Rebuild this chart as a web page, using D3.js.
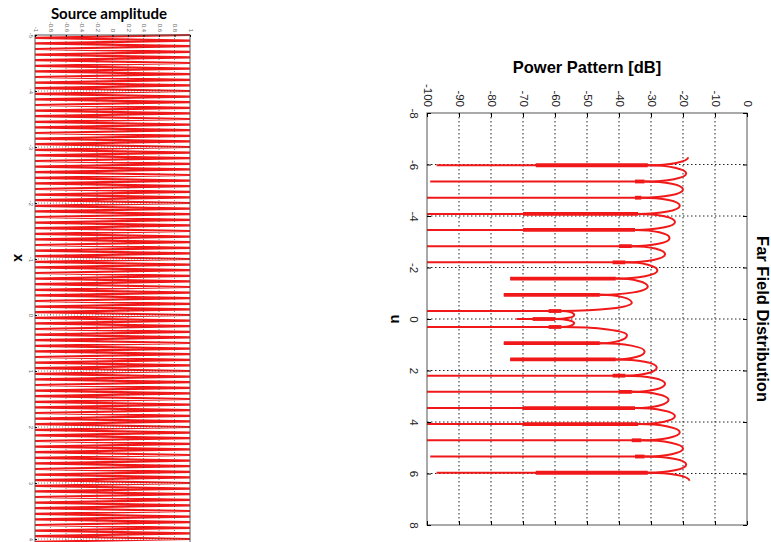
<!DOCTYPE html>
<html>
<head>
<meta charset="utf-8">
<script src="https://cdn.jsdelivr.net/npm/d3@7"></script>
<style>
body { margin: 0; background: #fff; }
svg { display: block; }
</style>
</head>
<body>
<div class="chart"></div>
<script>
// left panel: source amplitude along x (plot is rotated)
var ampTicks = [-1, -0.8, -0.6, -0.4, -0.2, 0, 0.2, 0.4, 0.6, 0.8, 1]
var xTicks = [-5, -4, -3, -2, -1, 0, 1, 2, 3, 4]
var sourceAmp = [
    1, -1, 1, -1, 1, -1, 1, -1, 1, -1, 1, -1, 1, -1, 1, -1, 1, -1, 1, -1,
    1, -1, 1, -1, 1, -1, 1, -1, 1, -1, 1, -1, 1, -1, 1, -1, 1, -1, 1, -1,
    1, -1, 1, -1, 1, -1, 1, -1, 1, -1, 1, -1, 1, -1, 1, -1, 1, -1, 1, -1,
    1, -1, 1, -1, 1, -1, 1, -1, 1, -1, 1, -1, 1, -1, 1, -1, 1, -1, 1, -1,
    1, -1, 1, -1, 1, -1, 1, -1, 1, -1, 1, -1, 1, -1, 1, -1, 1, -1, 1, -1,
    1, -1, 1, -1, 1, -1, 1, -1, 1, -1, 1, -1, 1, -1, 1, -1, 1, -1, 1, -1,
    1, -1, 1, -1, 1, -1, 1, -1, 1, -1, 1, -1, 1, -1, 1, -1, 1, -1, 1, -1,
    1, -1, 1, -1, 1, -1, 1, -1, 1, -1, 1, -1, 1, -1, 1, -1, 1, -1, 1, -1,
    1, -1, 1, -1, 1, -1, 1, -1, 1, -1, 1, -1, 1, -1, 1, -1, 1, -1, 1, -1,
    1, -1, 1, -1, 1, -1, 1, -1, 1, -1, 1, -1, 1, -1, 1, -1, 1, -1, 1, -1,
    1
]

// right panel: far field power pattern (dB) against u
var dbTicks = [-100, -90, -80, -70, -60, -50, -40, -30, -20, -10, 0]
var uTicks = [-8, -6, -4, -2, 0, 2, 4, 6, 8]
var lobeU = [-6.28, -5.65, -5.03, -4.40, -3.77, -3.14, -2.51, -1.88, -1.26, -0.63, -0.16,
             0.16, 0.63, 1.26, 1.88, 2.51, 3.14, 3.77, 4.40, 5.03, 5.65, 6.28]
var lobeDb = [-18.4, -19, -20, -21, -22.5, -24.2, -25.6, -28, -31, -36, -54,
              -54, -37.5, -32, -28.2, -25.6, -24.5, -22.5, -21, -20, -19, -18]
var nullU = [-5.97, -5.34, -4.71, -4.08, -3.46, -2.83, -2.20, -1.57, -0.94, -0.31, 0,
             0.31, 0.94, 1.57, 2.20, 2.83, 3.46, 4.08, 4.71, 5.34, 5.97]
var nullDb = [-97, -99, -100, -100, -100, -100, -100, -74, -76, -100, -72,
              -100, -76, -74, -100, -100, -100, -100, -100, -99, -97]
var nullThickDb = [-66, -35, -35, -70, -70, -40, -42, -74, -76, -62, -67,
                   -62, -76, -74, -42, -40, -70, -70, -36, -35, -66]
var nullEdgeDb = [-31, -32, -33, -34, -35, -36, -38, -41, -46, -58, -60,
                  -58, -46, -41, -38, -36, -35, -34, -33, -32, -31]

var red = "#f01818"

var svg = d3.select(".chart").append("svg")
    .attr("width", 771)
    .attr("height", 542)
    .style("font-family", "'Liberation Sans', Arial, sans-serif")

svg.append("rect")
    .attr("width", 771)
    .attr("height", 542)
    .attr("fill", "white")

// ---------- left panel ----------
var ampX = d3.scaleLinear().domain([-1, 1]).range([35, 190])
var posY = d3.scaleLinear().domain([-5, 5]).range([35, 595])
var sampleY = d3.scalePoint()
    .domain(d3.range(sourceAmp.length))
    .range([posY(-5), posY(5)])

var left = svg.append("g")

left.append("path")
    .datum(sourceAmp)
    .attr("d", d3.line()
        .x(function(d) { return ampX(d) })
        .y(function(d, i) { return sampleY(i) }))
    .attr("fill", "none")
    .attr("stroke", red)
    .attr("stroke-width", 2.2)

left.selectAll(".vgridL")
    .data(ampTicks.slice(1, -1))
    .enter().append("line")
    .attr("class", "vgridL")
    .attr("x1", function(d) { return ampX(d) })
    .attr("x2", function(d) { return ampX(d) })
    .attr("y1", 35)
    .attr("y2", 542)
    .attr("stroke", "#333")
    .attr("stroke-opacity", 0.6)
    .attr("stroke-dasharray", "1,2")

left.selectAll(".hgridL")
    .data(xTicks.slice(1))
    .enter().append("line")
    .attr("class", "hgridL")
    .attr("x1", 35)
    .attr("x2", 190)
    .attr("y1", function(d) { return posY(d) })
    .attr("y2", function(d) { return posY(d) })
    .attr("stroke", "#333")
    .attr("stroke-opacity", 0.6)
    .attr("stroke-dasharray", "1,2")

left.append("rect")
    .attr("x", 35)
    .attr("y", 35)
    .attr("width", 155)
    .attr("height", 560)
    .attr("fill", "none")
    .attr("stroke", "#555")

var ampAxis = left.append("g")
    .attr("transform", "translate(0,35)")
    .call(d3.axisTop(ampX).tickValues(ampTicks).tickSize(-2)
        .tickFormat(function(d) { return String(d) }))
ampAxis.select(".domain").remove()
ampAxis.selectAll("text")
    .attr("transform", "rotate(90)")
    .attr("text-anchor", "end")
    .attr("x", -3)
    .attr("y", 2)
    .attr("dy", null)
    .style("font-size", "6px")
    .attr("fill", "#666")

var posAxis = left.append("g")
    .attr("transform", "translate(35,0)")
    .call(d3.axisLeft(posY).tickValues(xTicks).tickSize(-2)
        .tickFormat(function(d) { return String(d) }))
posAxis.select(".domain").remove()
posAxis.selectAll("text")
    .attr("transform", "rotate(90)")
    .attr("text-anchor", "middle")
    .attr("x", 0)
    .attr("y", 6)
    .attr("dy", null)
    .style("font-size", "6px")
    .attr("fill", "#666")

left.append("text")
    .attr("x", 109)
    .attr("y", 19)
    .attr("text-anchor", "middle")
    .style("font-family", "Lato, sans-serif")
    .style("font-weight", "bold")
    .style("font-size", "15px")
    .text("Source amplitude")

left.append("text")
    .attr("transform", "translate(14,258) rotate(90)")
    .attr("text-anchor", "middle")
    .style("font-weight", "bold")
    .style("font-size", "14px")
    .text("x")

// ---------- right panel ----------
var dbX = d3.scaleLinear().domain([-100, 0]).range([427, 747])
var uY = d3.scaleLinear().domain([-8, 8]).range([113, 525])

var right = svg.append("g")

right.selectAll(".vgridR")
    .data(dbTicks.slice(1, -1))
    .enter().append("line")
    .attr("class", "vgridR")
    .attr("x1", function(d) { return dbX(d) })
    .attr("x2", function(d) { return dbX(d) })
    .attr("y1", 113)
    .attr("y2", 525)
    .attr("stroke", "#222")
    .attr("stroke-dasharray", "1.5,2.5")

right.selectAll(".hgridR")
    .data(uTicks.slice(1, -1))
    .enter().append("line")
    .attr("class", "hgridR")
    .attr("x1", 427)
    .attr("x2", 747)
    .attr("y1", function(d) { return uY(d) })
    .attr("y2", function(d) { return uY(d) })
    .attr("stroke", "#222")
    .attr("stroke-dasharray", "1.5,2.5")

// each lobe: rounded arc from the null edge, out to the peak and back in
function lobePath(d, i) {
    var k = 0.55
    var p = d3.path()
    var xP = dbX(lobeDb[i]), yP = uY(d)
    if (i > 0) {
        var xL = dbX(nullEdgeDb[i - 1]), yL = uY(nullU[i - 1])
        p.moveTo(xL, yL)
        p.bezierCurveTo(xL + k * (xP - xL), yL, xP, yP - k * (yP - yL), xP, yP)
    } else {
        p.moveTo(xP, yP)
    }
    if (i < nullU.length) {
        var xR = dbX(nullEdgeDb[i]), yR = uY(nullU[i])
        p.bezierCurveTo(xP, yP + k * (yR - yP), xR + k * (xP - xR), yR, xR, yR)
    }
    return p.toString()
}

right.selectAll(".lobe")
    .data(lobeU)
    .enter().append("path")
    .attr("class", "lobe")
    .attr("d", lobePath)
    .attr("fill", "none")
    .attr("stroke", red)
    .attr("stroke-width", 2)

right.selectAll(".spike")
    .data(nullU)
    .enter().append("line")
    .attr("class", "spike")
    .attr("x1", function(d, i) { return dbX(nullDb[i]) })
    .attr("x2", function(d, i) { return dbX(nullEdgeDb[i]) })
    .attr("y1", function(d) { return uY(d) })
    .attr("y2", function(d) { return uY(d) })
    .attr("stroke", red)
    .attr("stroke-width", 2)

right.selectAll(".spikeThick")
    .data(nullU)
    .enter().append("line")
    .attr("class", "spikeThick")
    .attr("x1", function(d, i) { return dbX(nullThickDb[i]) })
    .attr("x2", function(d, i) { return dbX(nullEdgeDb[i]) })
    .attr("y1", function(d) { return uY(d) })
    .attr("y2", function(d) { return uY(d) })
    .attr("stroke", red)
    .attr("stroke-width", 3.8)

right.append("rect")
    .attr("x", 427)
    .attr("y", 113)
    .attr("width", 320)
    .attr("height", 412)
    .attr("fill", "none")
    .attr("stroke", "#555")

var dbAxis = right.append("g")
    .attr("transform", "translate(0,113)")
    .call(d3.axisTop(dbX).tickValues(dbTicks).tickSize(-4)
        .tickFormat(function(d) { return String(d) }))
dbAxis.select(".domain").remove()
dbAxis.selectAll("text")
    .attr("transform", "rotate(90)")
    .attr("text-anchor", "end")
    .attr("x", -6)
    .attr("y", 4)
    .attr("dy", null)
    .style("font-size", "11.5px")
    .attr("fill", "#222")

right.append("g")
    .attr("transform", "translate(0,525)")
    .call(d3.axisBottom(dbX).tickValues(dbTicks).tickSize(-4).tickFormat(""))
    .select(".domain").remove()

var uAxis = right.append("g")
    .attr("transform", "translate(427,0)")
    .call(d3.axisLeft(uY).tickValues(uTicks).tickSize(-4)
        .tickFormat(function(d) { return String(d) }))
uAxis.select(".domain").remove()
uAxis.selectAll("text")
    .attr("transform", "rotate(90)")
    .attr("text-anchor", "middle")
    .attr("x", 0)
    .attr("y", 17)
    .attr("dy", null)
    .style("font-size", "11.5px")
    .attr("fill", "#222")

right.append("g")
    .attr("transform", "translate(747,0)")
    .call(d3.axisRight(uY).tickValues(uTicks).tickSize(-4).tickFormat(""))
    .select(".domain").remove()

right.append("text")
    .attr("x", 587)
    .attr("y", 73)
    .attr("text-anchor", "middle")
    .style("font-weight", "bold")
    .style("font-size", "16.5px")
    .text("Power Pattern [dB]")

right.append("text")
    .attr("transform", "translate(391,319) rotate(90)")
    .attr("text-anchor", "middle")
    .style("font-weight", "bold")
    .style("font-size", "15px")
    .text("u")

right.append("text")
    .attr("transform", "translate(757,319) rotate(90)")
    .attr("text-anchor", "middle")
    .style("font-weight", "bold")
    .style("font-size", "16.5px")
    .text("Far Field Distribution")
</script>
</body>
</html>
